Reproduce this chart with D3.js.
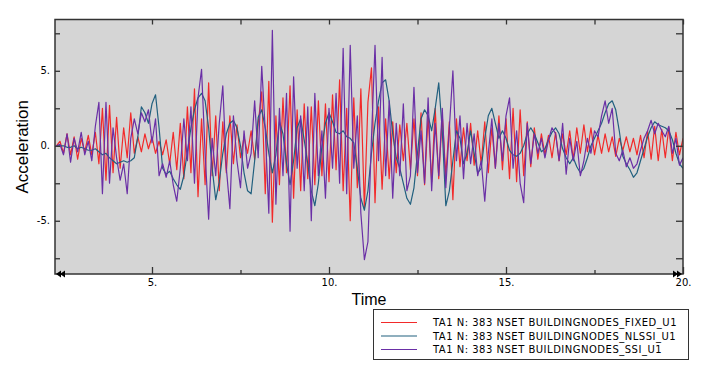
<!DOCTYPE html>
<html>
<head>
<meta charset="utf-8">
<script src="https://cdn.jsdelivr.net/npm/d3@7/dist/d3.min.js"></script>
<style>
	body { margin: 0; background: #fff; }
	svg { display: block; }
</style>
</head>
<body>
<script>
// sample grid of the history output (s)
var timeStart = 2.3;
var timeStep = 0.1;

// TA1 N: 383 NSET BUILDINGNODES_FIXED_U1
var fixedU1 = [
	0, 0.3, -0.5, 0.8, -0.6, 0.6, -0.9, 0.5, -0.4, 0.7,
	-0.6, 0.9, -1.2, 2.5, -2.3, 2.7, -1.8, 1.9, -1.5, 1.2,
	-0.8, 2.2, -0.5, 0.6, -0.4, 0.8, -0.2, 0.6, -0.5, 0.3,
	-0.6, 0.4, -1.2, 0.9, -1.6, 1.5, -2.2, 2.6, -1.8, 3.8,
	-3.4, 1.8, -2.6, 4.2, -2.0, 2.0, -3.0, 1.6, -1.8, 2.0,
	-1.2, 1.4, -0.8, 0.6, -0.5, 1.0, -0.9, 1.5, 3.6, -3.2,
	4.3, -5.1, 2.0, -2.6, 3.2, -1.8, 4.0, -3.5, 2.4, -3.0,
	2.8, -2.2, 2.6, -2.6, 3.0, -2.0, 2.8, -2.4, 3.4, -1.6,
	4.4, -3.0, 2.5, -5.0, 3.2, -2.8, 3.8, -4.2, 2.9, 5.2,
	-3.8, 2.6, -2.9, 1.8, -2.2, 1.6, -1.8, 1.4, -1.0, 1.5,
	-1.6, 1.8, -2.0, 2.2, -2.6, 2.0, -2.4, 2.5, -2.2, 2.0,
	-2.0, 1.6, -3.6, 1.8, -1.4, 1.2, -1.0, 1.5, -1.3, 1.0,
	-1.2, 1.6, -1.8, 1.2, -1.5, 2.0, -1.6, 1.8, -2.2, 2.5,
	-2.4, 2.4, -2.0, 1.6, -1.4, 1.2, -0.9, 0.8, -0.6, 0.7,
	-0.8, 0.9, -1.0, 0.8, -0.6, 1.0, -0.9, 1.2, -0.5, 1.4,
	-0.4, 1.2, -0.6, 0.7, -0.5, 0.8, -0.4, 0.6, -0.7, 0.5,
	-0.3, 0.6, -0.4, 0.5, -0.6, 0.7, -0.8, 1.0, -0.9, 1.3,
	-1.0, 1.1, -0.8, 1.2, -1.0, 0.9, -0.6, 0.5
];

// TA1 N: 383 NSET BUILDINGNODES_NLSSI_U1
var nlssiU1 = [
	0, 0, 0, -0.1, -0.1, 0, -0.2, -0.1, -0.2, -0.3,
	-0.3, -0.2, -0.4, -0.6, -0.5, -0.8, -1.0, -1.2, -1.1, -1.0,
	-1.1, -1.0, -0.8, 0.6, 2.6, 2.2, 1.5, 2.8, 3.4, 1.2,
	-1.5, -1.9, -1.7, -2.2, -2.6, -2.9, -2.0, -0.4, 1.2, 2.4,
	3.2, 3.5, 3.0, 1.2, -1.5, -3.6, -2.4, -0.5, 0.8, 1.5,
	1.7, 1.2, 0.0, -1.8, -3.0, -3.2, -1.0, 1.9, 2.4, 1.2,
	-0.5, -1.8, -0.6, 1.6, 0.8, -1.2, -2.6, -1.0, 1.2, 1.8,
	0.4, -1.2, -3.0, -4.0, -2.5, 0.0, 1.5, 2.2, 1.6, 0.9,
	0.8, 1.0, 0.6, 0.5, 0.2, -1.5, -3.5, -4.3, -3.0, -0.5,
	1.5, 3.0, 4.2, 4.4, 3.0, 0.8, -0.8, -1.5, -2.5, -3.5,
	-3.9, -2.8, -0.5, 1.8, 2.4, 2.0, 1.0, 2.5, 4.2, 1.0,
	-4.0, -3.0, -1.0, 1.0, 0.5, -1.2, -0.5, 1.0, -0.5, -1.8,
	-1.5, 0.5, 2.0, 2.5, 1.5, 0.5, 1.0, 0.5, -0.3, -0.6,
	-0.7, -0.5, 0.0, 0.8, 1.2, 0.8, 0.2, -0.4, -0.2, 0.4,
	0.9, 1.2, 0.8, -0.2, -0.8, -1.2, -0.8, -1.4, -1.8, -1.5,
	-0.8, 0.0, 0.5, 1.0, 1.5, 2.2, 2.8, 3.0, 2.4, 1.0,
	-0.7, -1.2, -1.6, -2.1, -1.8, -1.0, -0.2, 0.6, 1.2, 1.6,
	1.4, 1.3, 1.2, 1.0, 0.4, -0.5, -1.2, -1.5
];

// TA1 N: 383 NSET BUILDINGNODES_SSI_U1
var ssiU1 = [
	0, 0.1, -0.6, 0.8, -1.1, 0.5, -0.4, 0.9, -0.6, 0.3,
	-1.0, 1.3, 2.9, -3.2, 2.9, -2.5, 1.2, -0.8, -2.3, -1.2,
	-3.2, 0.5, 1.8, 0.8, 2.2, 1.6, 2.4, 0.2, 1.8, -2.0,
	-1.2, -2.1, -1.0, -2.6, -3.7, -1.5, 1.8, -1.0, 2.6, -2.5,
	3.2, 5.1, -0.5, -4.9, 0.5, -2.0, 1.5, 4.0, -1.5, -4.2,
	2.0, -1.0, -2.8, 1.0, -1.5, -0.5, 3.0, -0.8, 5.3, 1.0,
	-4.5, 7.7, -3.9, 2.5, -2.0, 3.5, -5.7, 4.6, -1.5, 2.0,
	-3.0, 2.6, -5.0, 3.5, -2.0, 1.0, -3.5, 2.5, -1.5, 3.5,
	-2.5, 6.5, -3.2, 6.7, -1.5, 2.0, -4.5, -7.6, -6.4, 0.5,
	6.7, -1.0, 5.9, -2.0, 3.0, -3.5, 1.5, -2.0, 2.8, -3.0,
	-2.0, 3.9, -1.8, 1.0, -2.5, 3.2, -3.0, 1.5, -2.0, 2.5,
	-2.8, 1.2, 5.0, -1.0, 2.0, -2.2, 1.5, -1.2, 0.8, -2.0,
	-1.0, -3.7, -0.5, 1.8, -1.5, 1.5, -1.0, 2.0, 3.2, -1.5,
	1.0, -2.5, -3.8, 1.5, -1.2, 0.8, -0.5, 0.5, -0.8, 0.4,
	1.2, 0.8, -1.0, 1.5, -1.9, 0.5, -1.0, 0.3, -2.0, -1.0,
	0.5, -0.5, 1.0, 0.6, 2.0, 3.0, 1.5, 2.5, -0.5, -1.0,
	-0.3, -1.4, -0.8, -1.5, -1.2, -0.3, 0.5, 1.0, 1.7, 0.8,
	1.5, 1.0, 0.6, 1.3, -0.5, 0.5, -1.3, -0.8
];

var seriesNames = [
	'TA1 N: 383 NSET BUILDINGNODES_FIXED_U1',
	'TA1 N: 383 NSET BUILDINGNODES_NLSSI_U1',
	'TA1 N: 383 NSET BUILDINGNODES_SSI_U1'
];
var seriesColors = ['#f22a2a', '#21607f', '#6a2fa6'];

var xTickValues = [5, 10, 15, 20];
var xMinorTicks = [7.5, 12.5, 17.5];
var yTickValues = [-5, 0, 5];
var yMinorTicks = [-7.5, -2.5, 2.5, 7.5];

function tickLabel(v){
	return v + '.';
}

function buildSeries(values){
	var pts = [];
	for(var i = 0; i < values.length; i++){
		pts.push({ t: timeStart + i*timeStep, v: values[i] });
	}
	return pts;
}

var w = 708;
var h = 371;
var plotLeft = 55, plotRight = 683, plotTop = 19.5, plotBottom = 274;

var svg = d3.select('body')
			.append('svg')
			.attr('width', w)
			.attr('height', h);

var x = d3.scaleLinear().domain([2.26, 20]).range([plotLeft, plotRight]);
var y = d3.scaleLinear().domain([-8.55, 8.42]).range([plotBottom, plotTop]);

svg.append('defs')
   .append('clipPath')
   .attr('id', 'plotClip')
   .append('rect')
   .attr('x', plotLeft)
   .attr('y', plotTop)
   .attr('width', plotRight - plotLeft)
   .attr('height', plotBottom - plotTop);

svg.append('rect')
   .attr('x', plotLeft)
   .attr('y', plotTop)
   .attr('width', plotRight - plotLeft)
   .attr('height', plotBottom - plotTop)
   .attr('fill', '#d5d5d5');

var line = d3.line()
			 .x(function(d){ return x(d.t); })
			 .y(function(d){ return y(d.v); });

var allSeries = [fixedU1, nlssiU1, ssiU1];
var plot = svg.append('g').attr('clip-path', 'url(#plotClip)');
for(var s = 0; s < allSeries.length; s++){
	plot.append('path')
		.datum(buildSeries(allSeries[s]))
		.attr('d', line)
		.attr('fill', 'none')
		.attr('stroke', seriesColors[s])
		.attr('stroke-width', 1.2)
		.attr('stroke-linejoin', 'round');
}

// frame
svg.append('rect')
   .attr('x', plotLeft)
   .attr('y', plotTop)
   .attr('width', plotRight - plotLeft)
   .attr('height', plotBottom - plotTop)
   .attr('fill', 'none')
   .attr('stroke', '#333')
   .attr('stroke-width', 1.5);

function styleAxis(g){
	g.select('.domain').remove();
	g.selectAll('line').attr('stroke', '#333').attr('stroke-width', 1.3);
	g.selectAll('text')
	 .attr('fill', '#000')
	 .style('font-family', 'DejaVu Sans, sans-serif')
	 .style('font-size', '10px');
}

// inward ticks on all four sides
var gb = svg.append('g')
			.attr('transform', 'translate(0,' + plotBottom + ')')
			.call(d3.axisBottom(x).tickValues(xTickValues).tickSizeInner(-7).tickSizeOuter(0).tickFormat(tickLabel))
			.call(styleAxis);
gb.selectAll('text').attr('y', 5).attr('dy', '0.71em');
svg.append('g')
   .attr('transform', 'translate(0,' + plotBottom + ')')
   .call(d3.axisBottom(x).tickValues(xMinorTicks).tickSizeInner(-4).tickSizeOuter(0).tickFormat(''))
   .call(styleAxis);
svg.append('g')
   .attr('transform', 'translate(0,' + plotTop + ')')
   .call(d3.axisTop(x).tickValues(xTickValues.concat(xMinorTicks)).tickSizeInner(-5).tickSizeOuter(0).tickFormat(''))
   .call(styleAxis);

var gl = svg.append('g')
			.attr('transform', 'translate(' + plotLeft + ',0)')
			.call(d3.axisLeft(y).tickValues(yTickValues).tickSizeInner(-5).tickSizeOuter(0).tickFormat(tickLabel))
			.call(styleAxis);
gl.selectAll('text').attr('x', -5);
svg.append('g')
   .attr('transform', 'translate(' + plotLeft + ',0)')
   .call(d3.axisLeft(y).tickValues(yMinorTicks).tickSizeInner(-5).tickSizeOuter(0).tickFormat(''))
   .call(styleAxis);
svg.append('g')
   .attr('transform', 'translate(' + plotRight + ',0)')
   .call(d3.axisRight(y).tickValues(yTickValues.concat(yMinorTicks)).tickSizeInner(-7).tickSizeOuter(0).tickFormat(''))
   .call(styleAxis);

// double arrow heads at the ends of the time axis
var arrowTimes = [x.domain()[0], x.domain()[1]];
svg.selectAll('.arrowHead')
   .data([
	   { t: arrowTimes[0], dir: -1, off: 0 },
	   { t: arrowTimes[0], dir: -1, off: 4 },
	   { t: arrowTimes[1], dir: 1, off: 0 },
	   { t: arrowTimes[1], dir: 1, off: -4 }
   ])
   .enter()
   .append('path')
   .attr('class', 'arrowHead')
   .attr('d', function(d){
	   var tip = x(d.t) + d.off + (d.dir < 0 ? 1 : -1);
	   var base = tip - d.dir*5;
	   return 'M' + tip + ',' + plotBottom + ' L' + base + ',' + (plotBottom - 3.5) + ' L' + base + ',' + (plotBottom + 3.5) + ' Z';
   })
   .attr('fill', '#000');

// axis titles
svg.append('text')
   .attr('x', (plotLeft + plotRight)/2)
   .attr('y', 305)
   .attr('text-anchor', 'middle')
   .style('font-family', 'Liberation Sans, Arial, sans-serif')
   .style('font-size', '16px')
   .text('Time');

svg.append('text')
   .attr('transform', 'translate(28,' + ((plotTop + plotBottom)/2) + ') rotate(-90)')
   .attr('text-anchor', 'middle')
   .style('font-family', 'Liberation Sans, Arial, sans-serif')
   .style('font-size', '17px')
   .text('Acceleration');

// legend
var legend = svg.append('g');
legend.append('rect')
	  .attr('x', 373.5)
	  .attr('y', 309.5)
	  .attr('width', 315)
	  .attr('height', 50)
	  .attr('fill', '#fff')
	  .attr('stroke', '#333')
	  .attr('stroke-width', 1);

var rows = legend.selectAll('.row')
				 .data(seriesNames)
				 .enter()
				 .append('g')
				 .attr('class', 'row')
				 .attr('transform', function(d, i){
					 return 'translate(0,' + (322.5 + i*13.5) + ')';
				 });
rows.append('line')
	.attr('x1', 381)
	.attr('x2', 417)
	.attr('stroke', function(d, i){ return seriesColors[i]; })
	.attr('stroke-width', 1.2);
rows.append('text')
	.attr('x', 433)
	.attr('dy', '0.35em')
	.style('font-family', 'DejaVu Sans, sans-serif')
	.style('font-size', '10px')
	.style('letter-spacing', '0.5px')
	.text(function(d){ return d; });
</script>
</body>
</html>
